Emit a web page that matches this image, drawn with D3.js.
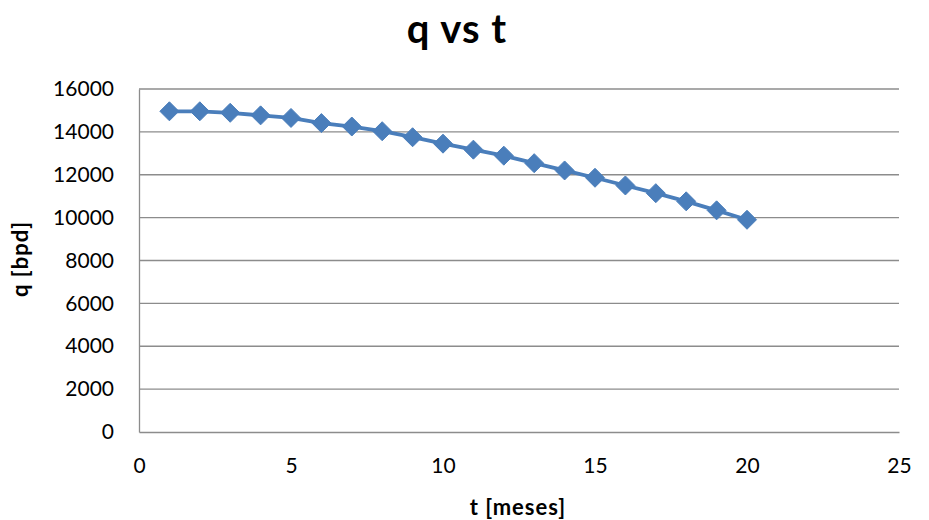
<!DOCTYPE html>
<html>
<head>
<meta charset="utf-8">
<script src="https://cdn.jsdelivr.net/npm/d3@7/dist/d3.min.js"></script>
<style>
  html, body { margin: 0; padding: 0; background: #ffffff; }
  svg { display: block; }
  text { font-family: Lato, "Open Sans", sans-serif; }
</style>
</head>
<body>
<script>
// Monthly production rate
const months = [1, 2, 3, 4, 5, 6, 7, 8, 9, 10, 11, 12, 13, 14, 15, 16, 17, 18, 19, 20];
const rates = [14960, 14960, 14890, 14770, 14650, 14410, 14250, 14030, 13750, 13450,
               13170, 12890, 12540, 12200, 11860, 11500, 11140, 10760, 10340, 9900];
const xTicks = [0, 5, 10, 15, 20, 25];
const yTicks = [0, 2000, 4000, 6000, 8000, 10000, 12000, 14000, 16000];

const W = 929, H = 520;
const plot = { left: 139, right: 899, top: 89, bottom: 432 };

const svg = d3.select("body").append("svg").attr("width", W).attr("height", H);

const x = d3.scaleLinear().domain([0, 25]).range([plot.left, plot.right]);
const y = d3.scaleLinear().domain([0, 16000]).range([plot.bottom, plot.top]);

// horizontal gridlines
svg.append("g")
  .selectAll("line")
  .data(yTicks.filter(d => d > 0))
  .join("line")
  .attr("x1", plot.left).attr("x2", plot.right)
  .attr("y1", d => y(d)).attr("y2", d => y(d))
  .attr("stroke", "#8c8c8c").attr("stroke-width", 1.3);

// y axis
const yAxis = svg.append("g")
  .attr("transform", `translate(${plot.left},0)`)
  .call(d3.axisLeft(y).tickValues(yTicks).tickSize(0).tickPadding(25).tickFormat(d3.format("d")));
yAxis.select(".domain").attr("stroke", "#8c8c8c").attr("stroke-width", 1.3);
yAxis.selectAll("text").attr("font-size", 21).attr("fill", "#000");

// x axis
const xAxis = svg.append("g")
  .attr("transform", `translate(0,${plot.bottom})`)
  .call(d3.axisBottom(x).tickValues(xTicks).tickSize(0).tickPadding(26));
xAxis.select(".domain").attr("stroke", "#8c8c8c").attr("stroke-width", 1.3);
xAxis.selectAll("text").attr("font-size", 21).attr("fill", "#000");

// series line
const pts = months.map((m, i) => [m, rates[i]]);
svg.append("path")
  .datum(pts)
  .attr("fill", "none")
  .attr("stroke", "#4a7ebb")
  .attr("stroke-width", 3.8)
  .attr("stroke-linejoin", "round")
  .attr("d", d3.line().x(d => x(d[0])).y(d => y(d[1])));

// diamond markers
svg.append("g")
  .selectAll("path")
  .data(pts)
  .join("path")
  .attr("transform", d => `translate(${x(d[0])},${y(d[1])})`)
  .attr("d", "M0,-9.5L9.5,0L0,9.5L-9.5,0Z")
  .attr("fill", "#4a7ebb")
  .attr("stroke", "#4a7ebb")
  .attr("stroke-width", 1);

// titles
svg.append("text")
  .attr("x", 457).attr("y", 43)
  .attr("text-anchor", "middle")
  .attr("font-size", 40).attr("font-weight", "bold")
  .attr("letter-spacing", 1)
  .text("q vs t");

svg.append("text")
  .attr("x", 518).attr("y", 515)
  .attr("text-anchor", "middle")
  .attr("font-size", 22).attr("font-weight", "bold")
  .attr("letter-spacing", 1)
  .text("t [meses]");

svg.append("text")
  .attr("transform", "translate(28,259) rotate(-90)")
  .attr("text-anchor", "middle")
  .attr("font-size", 22).attr("font-weight", "bold")
  .attr("letter-spacing", 1)
  .text("q [bpd]");
</script>
</body>
</html>
